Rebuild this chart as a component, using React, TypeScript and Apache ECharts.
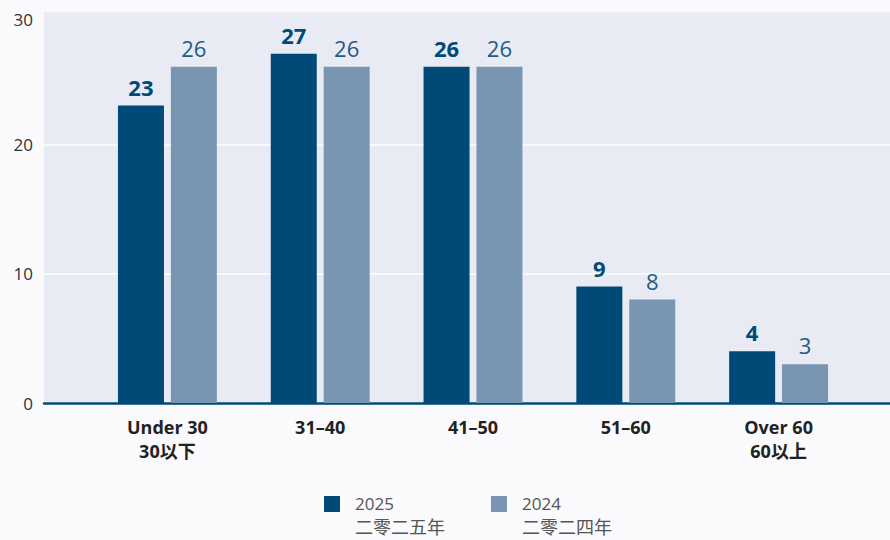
import React, { useEffect, useRef } from "react";
import * as echarts from "echarts";

const categories = ["Under 30\n30以下", "31–40", "41–50", "51–60", "Over 60\n60以上"];
const series2025 = [23, 27, 26, 9, 4];
const series2024 = [26, 26, 26, 8, 3];
const legendNames = ["2025", "2024"];
const legendCn: Record<string, string> = { "2025": "二零二五年", "2024": "二零二四年" };
const yMin = 0;
const yMaxTick = 30;
const yInterval = 10;

const FONT = "'Open Sans', 'Noto Sans CJK TC', sans-serif";
const DARK = "#004a77";
const LIGHT = "#7896b2";
const PLOT_BG = "#e8ebf3";
const AXIS_MAX = 30.16;

export default function App() {
  const ref = useRef<HTMLDivElement>(null);
  useEffect(() => {
    if (!ref.current) return;
    const chart = echarts.init(ref.current, null, { renderer: "svg" });
    const legendIcon = "path://M0,0L16,0L16,16L0,16Z M0,38L0.01,38L0.01,38.01Z";
    chart.setOption({
      animation: false,
      backgroundColor: "#faf9fb",
      textStyle: { fontFamily: FONT },
      grid: [
        { left: 44, right: 0, top: 13, bottom: 137, show: true, backgroundColor: PLOT_BG, borderWidth: 0 },
        { left: 91, right: 35, top: 13, bottom: 137 },
      ],
      xAxis: [
        {
          gridIndex: 0, type: "value", min: 0, max: 1, show: true,
          axisLine: { show: true, lineStyle: { color: DARK, width: 2.5 } },
          axisTick: { show: false }, axisLabel: { show: false }, splitLine: { show: false },
        },
        {
          gridIndex: 1, type: "category", data: categories,
          axisLine: { show: false }, axisTick: { show: false },
          axisLabel: {
            margin: 12, color: "#222", fontSize: 18, fontWeight: "bold", lineHeight: 24, fontFamily: FONT,
          },
        },
      ],
      yAxis: [
        {
          gridIndex: 0, type: "value", min: yMin, max: AXIS_MAX, interval: yInterval,
          axisLine: { show: false }, axisTick: { show: false },
          axisLabel: {
            margin: 11, color: "#333", fontSize: 17, fontFamily: FONT,
            formatter: (v: number) => {
              if (v % yInterval !== 0) return "";
              if (v === yMaxTick) return `{t|${v}}`;
              return String(v);
            },
            rich: { t: { fontSize: 17, color: "#333", fontFamily: FONT, padding: [8, 0, 0, 0] } },
          },
          splitLine: {
            show: true,
            lineStyle: { color: ["#ffffff", "#ffffff", "#ffffff", PLOT_BG, PLOT_BG], width: 1.5 },
          },
        },
        {
          gridIndex: 1, type: "value", min: yMin, max: AXIS_MAX, interval: yInterval, show: false,
          splitLine: { show: false },
        },
      ],
      legend: {
        left: 324, top: 495, itemWidth: 16, itemHeight: 38, itemGap: 46, padding: 0,
        icon: legendIcon,
        data: legendNames,
        formatter: (n: string) => `{a|${n}}\n{b|${legendCn[n]}}`,
        textStyle: {
          color: "#555", fontFamily: FONT, padding: [0, 0, 0, 10],
          rich: {
            a: { fontSize: 17, lineHeight: 23, color: "#555", fontFamily: FONT },
            b: { fontSize: 18, lineHeight: 23, color: "#555", fontFamily: FONT },
          },
        },
        selectedMode: false,
      },
      series: [
        {
          name: "2025", type: "bar", xAxisIndex: 1, yAxisIndex: 1, data: series2025,
          barWidth: 46, barGap: "15%",
          itemStyle: { color: DARK },
          label: { show: true, position: "top", distance: 8, color: DARK, fontSize: 22, fontWeight: "bold", fontFamily: FONT },
        },
        {
          name: "2024", type: "bar", xAxisIndex: 1, yAxisIndex: 1, data: series2024,
          barWidth: 46, barGap: "15%",
          itemStyle: { color: LIGHT },
          label: { show: true, position: "top", distance: 8, color: "#1d5a86", fontSize: 22, fontFamily: FONT },
        },
      ],
    });
    return () => chart.dispose();
  }, []);
  return <div ref={ref} style={{ position: "fixed", left: 0, top: 0, width: 890, height: 540 }} />;
}
